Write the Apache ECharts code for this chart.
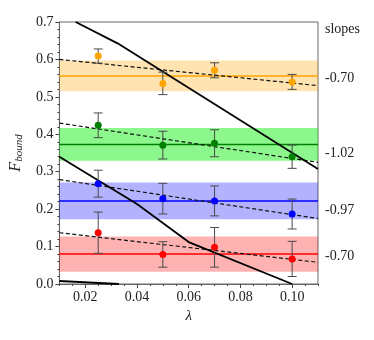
<!DOCTYPE html>
<html>
<head>
<meta charset="utf-8">
<script src="https://cdn.jsdelivr.net/npm/echarts@6/dist/echarts.min.js"></script>
<style>
  html, body { margin: 0; padding: 0; background: #fff; }
  #chart { width: 374px; height: 340px; }
</style>
</head>
<body>
<div id="chart"></div>
<script>
// x positions of the measurements
const lambdas = [0.025, 0.05, 0.07, 0.1]

// measured points and their error bars, one pair per group
const orangeY = [0.609, 0.536, 0.571, 0.540]
const orangeErr = [0.019, 0.030, 0.020, 0.020]
const greenY = [0.424, 0.371, 0.376, 0.340]
const greenErr = [0.033, 0.037, 0.036, 0.031]
const blueY = [0.268, 0.228, 0.222, 0.187]
const blueErr = [0.036, 0.041, 0.040, 0.040]
const redY = [0.137, 0.079, 0.098, 0.067]
const redErr = [0.055, 0.034, 0.053, 0.047]

// mean level and band half-width per group
const means = [0.556, 0.373, 0.222, 0.080]
const spreads = [0.041, 0.044, 0.049, 0.047]

// dashed fit lines: value at left edge and right edge
const dashLeft = [0.600, 0.430, 0.279, 0.137]
const dashRight = [0.530, 0.325, 0.175, 0.058]

// slope labels and where they sit on the y scale
const slopeLabels = ['-0.70', '-1.02', '-0.97', '-0.70']
const slopeLabelY = [0.550, 0.348, 0.197, 0.074]

// black bound curves
const curveA = [[0.0163, 0.7], [0.0325, 0.643], [0.11, 0.307]]
const curveB = [[0.01, 0.340], [0.04, 0.214], [0.060, 0.112], [0.1, 0.0]]
const curveC = [[0.01, 0.008], [0.033, 0.0]]

const xTicks = [0.02, 0.04, 0.06, 0.08, 0.10]
const xMin = 0.01
const xMax = 0.11

const groups = [
  { y: orangeY, err: orangeErr, color: '#FFA500', band: 'rgba(255,165,0,0.3)' },
  { y: greenY, err: greenErr, color: '#008000', band: 'rgba(0,238,0,0.45)' },
  { y: blueY, err: blueErr, color: '#0000FF', band: 'rgba(0,0,255,0.3)' },
  { y: redY, err: redErr, color: '#FF0000', band: 'rgba(255,0,0,0.3)' },
]

const serif = 'Liberation Serif, DejaVu Serif, serif'
const chart = echarts.init(document.getElementById('chart'))

const series = []
groups.forEach((g, i) => {
  // mean line with shaded band
  series.push({
    type: 'line',
    data: [[xMin, means[i]], [xMax, means[i]]],
    symbol: 'none',
    silent: true,
    z: 2,
    lineStyle: { color: g.color, width: 1.5 },
    markArea: {
      silent: true,
      itemStyle: { color: g.band },
      data: [[{ coord: [xMin, means[i] - spreads[i]] }, { coord: [xMax, means[i] + spreads[i]] }]],
    },
  })
  // dashed fit
  series.push({
    type: 'line',
    data: [[xMin, dashLeft[i]], [xMax, dashRight[i]]],
    symbol: 'none',
    silent: true,
    z: 3,
    lineStyle: { color: '#111', width: 1.2, type: [4, 2.5] },
  })
})

;[curveA, curveB, curveC].forEach((c) => {
  series.push({
    type: 'line',
    data: c,
    symbol: 'none',
    silent: true,
    z: 4,
    clip: true,
    lineStyle: { color: '#000', width: 1.8 },
  })
})

groups.forEach((g) => {
  series.push({
    type: 'custom',
    z: 5,
    silent: true,
    data: lambdas.map((x, k) => [x, g.y[k], g.err[k]]),
    renderItem(params, api) {
      const x = api.value(0)
      const y = api.value(1)
      const e = api.value(2)
      const top = api.coord([x, y + e])
      const bot = api.coord([x, y - e])
      const st = { stroke: '#4a4a4a', lineWidth: 1 }
      return {
        type: 'group',
        children: [
          { type: 'line', shape: { x1: top[0], y1: top[1], x2: bot[0], y2: bot[1] }, style: st },
          { type: 'line', shape: { x1: top[0] - 4.5, y1: top[1], x2: top[0] + 4.5, y2: top[1] }, style: st },
          { type: 'line', shape: { x1: bot[0] - 4.5, y1: bot[1], x2: bot[0] + 4.5, y2: bot[1] }, style: st },
        ],
      }
    },
  })
  series.push({
    type: 'scatter',
    z: 6,
    silent: true,
    symbolSize: 7,
    itemStyle: { color: g.color, opacity: 1 },
    data: lambdas.map((x, k) => [x, g.y[k]]),
  })
})

chart.setOption({
  animation: false,
  grid: {
    left: 59, right: 56, top: 22, bottom: 56,
    show: true, borderColor: '#666', borderWidth: 1,
  },
  graphic: [
    {
      type: 'text',
      left: 325,
      top: 22,
      style: { text: 'slopes', font: '14px ' + serif, fill: '#222' },
    },
  ],
  xAxis: [
    {
      type: 'value',
      min: xMin,
      max: xMax,
      name: 'λ',
      nameLocation: 'middle',
      nameGap: 23,
      nameTextStyle: { fontFamily: serif, fontSize: 15, fontStyle: 'italic', color: '#222' },
      splitLine: { show: false },
      axisLine: { lineStyle: { color: '#666' } },
      axisTick: { customValues: xTicks, length: 4, lineStyle: { color: '#444' } },
      axisLabel: {
        customValues: xTicks,
        margin: 6,
        fontFamily: serif,
        fontSize: 14,
        color: '#222',
        formatter: (v) => v.toFixed(2),
      },
    },
    {
      type: 'value',
      min: xMin,
      max: xMax,
      interval: 0.005,
      position: 'bottom',
      splitLine: { show: false },
      axisLine: { show: false },
      axisTick: { length: 2, lineStyle: { color: '#444' } },
      axisLabel: { show: false },
    },
  ],
  yAxis: [
    {
      type: 'value',
      min: 0,
      max: 0.7,
      interval: 0.1,
      name: '{f|F}{s|bound}',
      nameLocation: 'middle',
      nameRotate: 90,
      nameGap: 30,
      nameTextStyle: {
        rich: {
          f: { fontFamily: serif, fontSize: 16, fontStyle: 'italic', color: '#222' },
          s: { fontFamily: serif, fontSize: 11, fontStyle: 'italic', color: '#222', padding: [7, 0, 0, 0] },
        },
      },
      splitLine: { show: false },
      axisLine: { show: true, lineStyle: { color: '#666' } },
      axisTick: { show: true, length: 4, lineStyle: { color: '#444' } },
      minorTick: { show: true, splitNumber: 5, length: 2, lineStyle: { color: '#444' } },
      axisLabel: {
        margin: 6,
        fontFamily: serif,
        fontSize: 14,
        color: '#222',
        formatter: (v) => v.toFixed(1),
      },
    },
    {
      type: 'value',
      min: 0,
      max: 0.7,
      position: 'right',
      splitLine: { show: false },
      axisLine: { show: false },
      axisTick: { show: false },
      axisLabel: {
        customValues: slopeLabelY,
        margin: 7,
        fontFamily: serif,
        fontSize: 14,
        color: '#222',
        formatter: (v) => slopeLabels[slopeLabelY.indexOf(v)] ?? '',
      },
    },
  ],
  series,
})
</script>
</body>
</html>
